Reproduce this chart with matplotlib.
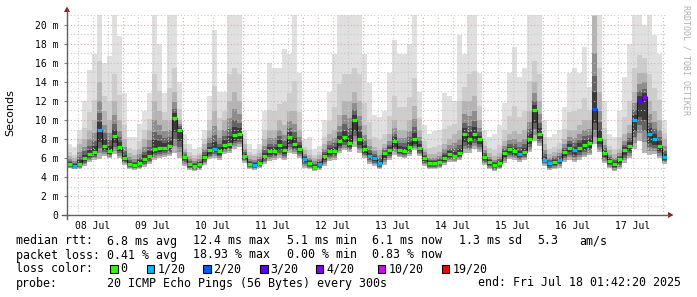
import numpy as np
import matplotlib
matplotlib.use("Agg")
import matplotlib.pyplot as plt
from matplotlib.patches import Rectangle, Polygon
from matplotlib.lines import Line2D

W, H = 697, 297
STEP_H = 2  # hours per sample (start: Jul 08 01:42:20)

median = [5.4, 5.2, 5.4, 6.0, 6.4, 6.6, 8.9, 7.3, 6.7, 8.3, 7.2, 6.0, 5.4, 5.25, 5.5, 5.9, 6.2, 7.0, 7.1, 7.1,
          7.3, 10.2, 9.0, 6.1, 5.35, 5.2, 5.4, 6.1, 6.8, 7.0, 6.7, 7.4, 7.5, 8.4, 8.5, 6.2, 5.4, 5.3, 5.5, 6.2,
          6.7, 6.7, 7.4, 6.8, 8.2, 7.5, 7.0, 5.9, 5.5, 5.1, 5.4, 6.2, 6.7, 6.75, 7.8, 8.2, 7.6, 10.0, 8.0, 6.9,
          6.25, 6.0, 5.5, 6.5, 6.8, 7.8, 6.85, 6.75, 7.2, 8.0, 7.1, 6.0, 5.5, 5.5, 5.6, 6.0, 6.4, 6.25, 6.5, 8.5,
          8.0, 8.5, 8.0, 6.1, 5.6, 5.3, 5.5, 6.5, 6.9, 6.7, 6.4, 6.6, 8.0, 11.0, 8.5, 5.8, 5.45, 5.6, 5.8, 6.6,
          7.1, 6.8, 7.1, 7.4, 7.6, 11.2, 8.0, 6.5, 5.7, 5.4, 5.85, 6.8, 7.3, 10.0, 12.0, 12.4, 8.5, 8.0, 7.3, 6.1]

loss = [0, 1, 0, 0, 0, 0, 1, 0, 0, 0, 0, 0, 0, 0, 0, 0, 0, 0, 0, 0,
        0, 0, 0, 0, 0, 0, 0, 0, 0, 1, 0, 0, 0, 0, 0, 0, 0, 1, 0, 0,
        0, 0, 0, 0, 0, 0, 0, 1, 0, 0, 1, 0, 0, 0, 0, 0, 0, 0, 0, 0,
        1, 1, 1, 0, 0, 0, 0, 0, 0, 0, 0, 0, 0, 0, 0, 0, 0, 0, 0, 0,
        0, 0, 0, 0, 0, 0, 0, 0, 0, 0, 1, 0, 0, 0, 0, 1, 1, 0, 1, 0,
        0, 1, 0, 0, 0, 2, 0, 0, 0, 0, 0, 0, 0, 1, 3, 4, 1, 1, 0, 1]

ping_lo = [4.9, 4.8, 4.8, 5.2, 5.6, 5.8, 5.9, 6.2, 6.0, 6.4, 6.0, 5.3, 4.8, 4.7, 4.8, 5.1, 5.4, 5.8, 6.0, 6.1,
           6.2, 6.5, 6.0, 5.2, 4.7, 4.6, 4.7, 5.3, 5.9, 6.0, 5.8, 6.4, 6.5, 7.0, 7.2, 5.5, 4.8, 4.7, 4.9, 5.4,
           5.7, 5.8, 6.0, 5.8, 6.5, 6.4, 6.0, 5.0, 4.8, 4.6, 4.7, 5.2, 5.7, 5.8, 6.5, 6.8, 6.6, 7.2, 6.5, 6.0,
           5.4, 5.2, 4.8, 5.3, 5.8, 6.3, 6.1, 6.0, 6.2, 6.8, 6.2, 5.2, 4.8, 4.8, 4.9, 5.3, 5.6, 5.6, 5.8, 6.5,
           6.5, 7.0, 6.6, 5.3, 4.8, 4.6, 4.8, 5.5, 5.9, 5.8, 5.6, 5.8, 6.6, 7.8, 7.3, 5.2, 4.7, 4.8, 5.0, 5.6,
           5.8, 5.6, 5.8, 6.1, 6.3, 7.5, 6.6, 5.5, 4.9, 4.6, 4.8, 5.5, 6.0, 7.0, 7.8, 6.5, 6.3, 6.4, 6.0, 5.4]

ping_hi = [6.2, 6.0, 7.5, 8, 9, 10, 14, 11, 10, 12, 10, 8, 6.5, 6.3, 7, 8, 9, 12, 11, 10,
           10, 13, 10, 7, 6.2, 6.0, 6.3, 7.5, 9, 11, 9, 10, 12, 13, 12, 7.5, 6.3, 6.2, 6.5, 8,
           9, 9, 10, 9.5, 11, 11, 9, 6.8, 6.3, 6.0, 6.3, 7.5, 8.5, 9, 10.5, 12, 12, 13, 12, 9.5,
           8, 7.2, 6.8, 7.5, 8.5, 10, 9, 9, 10, 11.5, 9, 7, 6.4, 6.4, 6.6, 7.5, 8, 8.5, 9, 12,
           12, 12.5, 10, 7.3, 6.5, 6.2, 6.5, 7.8, 8.5, 8.8, 8.5, 9, 11, 14, 12, 7.5, 6.4, 6.6, 7, 8,
           9, 9, 9.5, 10, 10, 21, 13, 8, 6.8, 6.4, 7, 8.5, 9.5, 13, 15, 15, 12, 11, 10, 8]

ping_max = [7.5, 7.2, 9, 12, 15.3, 17, 21.3, 16, 16.7, 21.3, 18.8, 12.8, 8.2, 8.2, 9.6, 11, 12.8, 21.3, 18, 12.8,
            21.3, 21.3, 14, 8.5, 7.5, 7.0, 7.2, 9, 12.5, 19.5, 13, 13, 21.3, 21.3, 21.3, 9, 7.5, 7.0, 7.5, 11,
            16, 15.5, 15.5, 17.5, 17, 21.3, 15, 8, 8.2, 7, 7.3, 10, 13, 17, 21.3, 21.3, 21.3, 21.3, 21.3, 17,
            13.9, 10.5, 10.3, 11, 15, 18.4, 17, 17, 18, 21.3, 13, 9.5, 8.5, 8.8, 9, 12.8, 12.5, 12, 19, 17,
            21.3, 21.3, 15, 9, 8.2, 8.5, 9.5, 11.8, 15, 17.7, 14.5, 15.5, 21.3, 21.3, 21.3, 10, 8.2, 8.5, 9, 11.4,
            15, 15.5, 15, 17.7, 13.5, 21.3, 21.3, 12, 8.5, 8.2, 11, 14.5, 18, 21.3, 21.3, 20, 21.3, 19, 17, 10]

day_labels = ["08 Jul", "09 Jul", "10 Jul", "11 Jul", "12 Jul", "13 Jul", "14 Jul", "15 Jul", "16 Jul", "17 Jul"]
first_midnight_h = 22.294   # hours from start to Jul 09 00:00
y_ticks = [0, 2, 4, 6, 8, 10, 12, 14, 16, 18, 20]
y_tick_labels = ["0", "2 m", "4 m", "6 m", "8 m", "10 m", "12 m", "14 m", "16 m", "18 m", "20 m"]

loss_levels = [0, 1, 2, 3, 4, 10, 19]
loss_names = ["0", "1/20", "2/20", "3/20", "4/20", "10/20", "19/20"]
loss_colors = ["#26ff00", "#00b8ff", "#0059ff", "#5e00ff", "#7e00ff", "#dd00ff", "#ff0000"]

stats_rtt = [("median rtt:", 16), ("6.8 ms avg", 107), ("12.4 ms max", 193), ("5.1 ms min", 287),
             ("6.1 ms now", 372), ("1.3 ms sd", 459), ("5.3", 537), ("am/s", 579)]
stats_loss = [("packet loss:", 16), ("0.41 % avg", 107), ("18.93 % max", 193), ("0.00 % min", 287),
              ("0.83 % now", 372)]
probe_text = "20 ICMP Echo Pings (56 Bytes) every 300s"
end_text = "end: Fri Jul 18 01:42:20 2025"


def fx(px):
    return px / W


def fy(py):
    return 1 - py / H


fig = plt.figure(figsize=(W / 100, H / 100), dpi=100)
fig.patch.set_facecolor("white")
YMAX = 21.1
ax = fig.add_axes([fx(67), fy(215), 600 / W, (YMAX * 9.5) / H])
ax.set_facecolor("white")

n = len(median)
edges = np.arange(n + 1) * STEP_H
med = np.array(median)
lo = np.array(ping_lo)
hi = np.array(ping_hi)
mx = np.array(ping_max)


def sy(a):
    return np.append(a, a[-1])


layers = [
    (lo, mx, "#e0e0e0"),
    (lo, hi + 0.3 * (mx - hi), "#cdcdcd"),
    (lo, hi, "#b4b4b4"),
    (med - 0.8 * (med - lo), med + 0.6 * (hi - med), "#8e8e8e"),
    (med - 0.6 * (med - lo), med + 0.35 * (hi - med), "#646464"),
    (med - 0.4 * (med - lo), med + 0.18 * (hi - med), "#3a3a3a"),
]
for a, b, c in layers:
    ax.fill_between(edges, sy(a), sy(b), step="post", color=c, lw=0, zorder=1)

# grid
for v in range(1, 22):
    col = "#e6a8a8" if v % 2 == 0 else "#c8c8c8"
    ax.axhline(v, color=col, lw=0.8, ls=(0, (1, 2)), zorder=3)
h = first_midnight_h - 18
while h < n * STEP_H:
    r = (h - first_midnight_h) / 24
    is_mid = abs(r - round(r)) < 1e-6
    ax.axvline(h, color="#e6a8a8" if is_mid else "#c8c8c8", lw=0.8, ls=(0, (1, 2)), zorder=3)
    h += 6

# median line
ax.step(edges, sy(med), where="post", color="#1a1a1a", lw=0.8, zorder=5)
color_of = dict(zip(loss_levels, loss_colors))
for i in range(n):
    ax.plot([edges[i], edges[i + 1]], [med[i], med[i]], color=color_of[loss[i]], lw=2.3,
            solid_capstyle="butt", zorder=6)

ax.set_xlim(0, n * STEP_H)
ax.set_ylim(0, YMAX)
for s in ax.spines.values():
    s.set_visible(False)

noon = [first_midnight_h - 12 + 24 * j for j in range(len(day_labels))]
ax.set_xticks(noon)
ax.set_xticklabels(day_labels, family="DejaVu Sans Mono", fontsize=7)
ax.tick_params(axis="x", length=0, pad=4)
ax.set_yticks(y_ticks)
ax.set_yticklabels(y_tick_labels, family="DejaVu Sans Mono", fontsize=7)
ax.tick_params(axis="y", length=2, width=0.8, color="#808080", pad=4)

# axis lines & arrows
fig.add_artist(Line2D([fx(62), fx(669)], [fy(215), fy(215)], color="#606060", lw=1))
fig.add_artist(Line2D([fx(67), fx(67)], [fy(219), fy(10)], color="#606060", lw=1))
fig.add_artist(Polygon([[fx(64), fy(12)], [fx(70), fy(12)], [fx(67), fy(6.5)]], closed=True,
                       color="#8b1a1a", lw=0))
fig.add_artist(Polygon([[fx(668), fy(212)], [fx(668), fy(218)], [fx(673.5), fy(215)]], closed=True,
                       color="#8b1a1a", lw=0))

fig.text(fx(10), fy(113), "Seconds", rotation=90, ha="center", va="center", fontsize=8,
         family="DejaVu Sans", color="#000000")
fig.text(fx(686), fy(5), "RRDTOOL / TOBI OETIKER", rotation=270, ha="center", va="top",
         fontsize=6, family="DejaVu Sans Mono", color="#b0b0b0")

mono = dict(family="DejaVu Sans Mono", fontsize=8.4, va="center", color="#000000")
for t, x in stats_rtt:
    fig.text(fx(x), fy(241), t, **mono)
for t, x in stats_loss:
    fig.text(fx(x), fy(255), t, **mono)
fig.text(fx(16), fy(269), "loss color:", **mono)
sq_x = [110, 146.7, 203, 260, 315.7, 377.7, 441.7]
for name, c, x in zip(loss_names, loss_colors, sq_x):
    fig.add_artist(Rectangle((fx(x), fy(272.7)), 7.5 / W, 7.5 / H, facecolor=c, edgecolor="black",
                             lw=0.8, transform=fig.transFigure))
    fig.text(fx(x + 10.5), fy(269), name, **mono)
fig.text(fx(16), fy(283), "probe:", **mono)
fig.text(fx(107), fy(283), probe_text, **mono)
fig.text(fx(478), fy(283), end_text, **mono)

fig.savefig("out.png", dpi=100, facecolor="white")
